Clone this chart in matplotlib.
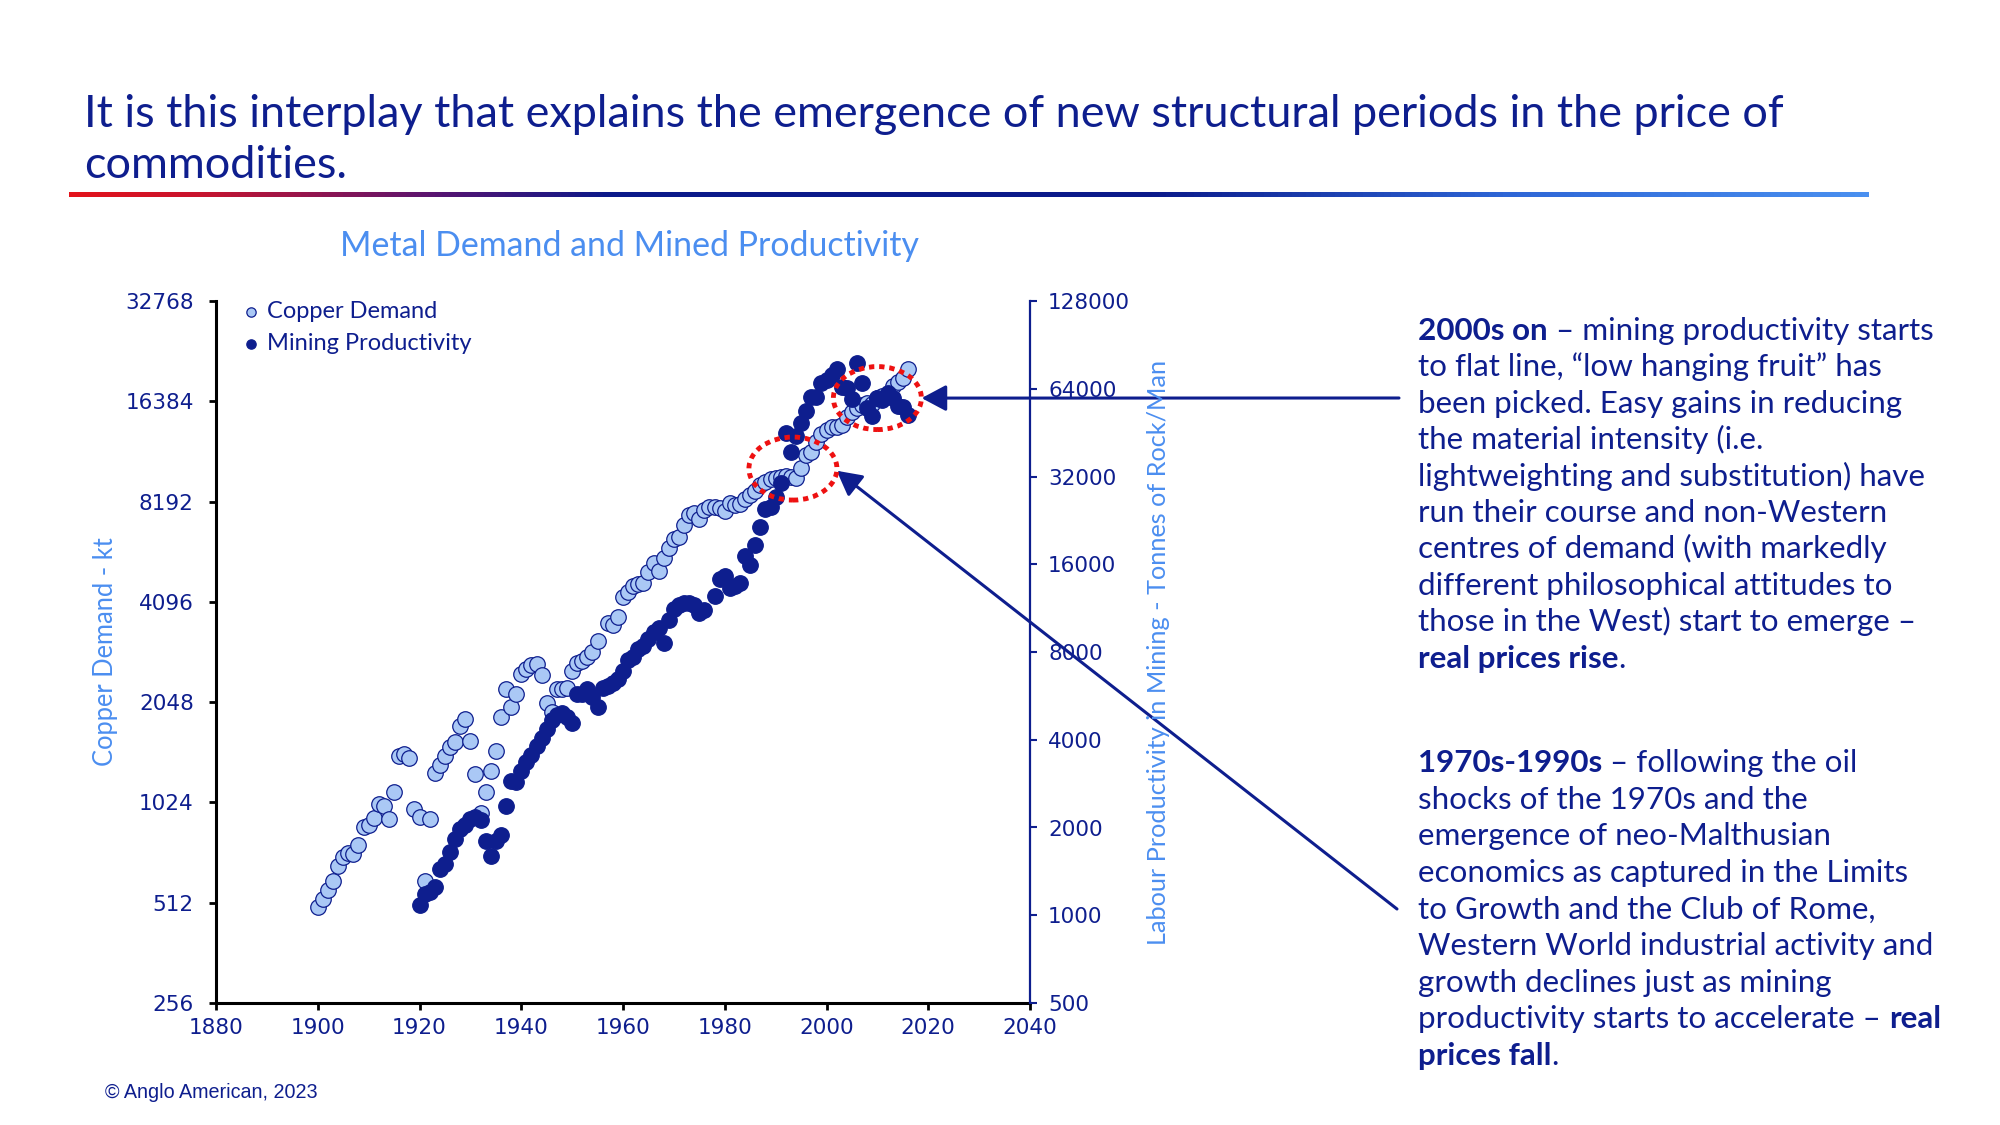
import numpy as np
import matplotlib
matplotlib.use("Agg")
import matplotlib.pyplot as plt
from matplotlib.patches import Ellipse
from matplotlib.colors import LinearSegmentedColormap

plt.rcParams['font.family'] = ['Lato', 'DejaVu Sans']

NAVY = "#0E1E8E"
LIGHT = "#4B8EF0"
POINT_LIGHT = "#AAC8F5"
RED = "#EE1111"

# copper demand (kt), left axis
copper_years = list(range(1900, 1956)) + list(range(1957, 2017))
copper_demand = [
    498, 525, 559, 596, 660, 704, 723, 716, 764, 862,
    876, 917, 1013, 1001, 913, 1103, 1414, 1428, 1395, 978,
    928, 596, 913, 1252, 1326, 1414, 1498, 1551, 1740, 1823,
    1569, 1246, 950, 1098, 1272, 1460, 1851, 2238, 1984, 2166,
    2482, 2570, 2647, 2660, 2470, 2039, 1916, 2238, 2238, 2253,
    2539, 2678, 2727, 2803, 2902, 3131,
    3531, 3489, 3697, 4244, 4393, 4570, 4632, 4674, 5043, 5345,
    5079, 5532, 5929, 6308, 6423, 6966, 7462, 7583, 7258, 7724,
    7869, 7902, 7815, 7670, 8125, 7997, 8051, 8317, 8568, 8829,
    9180, 9393, 9549, 9615, 9723, 9769, 9723, 9615, 10304, 11297,
    11556, 12383, 13064, 13430, 13740, 13740, 13901, 14720, 15237, 15598,
    15959, 16148, 16069, 16717, 16986, 17103, 18204, 18744, 19190, 20424,
]

# labour productivity in mining (tonnes of rock / man), right axis
mining_years = list(range(1920, 1977)) + list(range(1978, 2017))
mining_productivity = [
    1087, 1185, 1197, 1249, 1440, 1498, 1647, 1825, 1975, 2043,
    2137, 2181, 2126, 1801, 1600, 1801, 1888, 2379, 2898, 2876,
    3129, 3368, 3550, 3812, 4051, 4349, 4681, 4870, 4958, 4803,
    4581, 5746, 5746, 5963, 5599, 5198, 6012, 6122, 6284, 6453,
    6908, 7516, 7716, 8180, 8396, 8870, 9377, 9654, 8575, 10310,
    11214, 11605, 11816, 11760, 11605, 10869, 11156,
    12459, 14212, 14590, 13239, 13480, 13773, 17087, 15911, 18636,
    21424, 24700, 25213, 27151, 30472, 45219, 38744, 44050, 48816,
    53660, 59800, 60080, 66800, 68550, 71320, 74590, 65030, 64360,
    58860, 78580, 66800, 54830, 51590, 59330, 58530, 61730, 59470,
    55830, 55530, 51990,
]

x_ticks = [1880, 1900, 1920, 1940, 1960, 1980, 2000, 2020, 2040]
left_ticks = [256, 512, 1024, 2048, 4096, 8192, 16384, 32768]
right_ticks = [500, 1000, 2000, 4000, 8000, 16000, 32000, 64000, 128000]

text_2000s = [
    [("2000s on", "bold"), (" \u2013 mining productivity starts", "normal")],
    [("to flat line, \u201clow hanging fruit\u201d has", "normal")],
    [("been picked. Easy gains in reducing", "normal")],
    [("the material intensity (i.e.", "normal")],
    [("lightweighting and substitution) have", "normal")],
    [("run their course and non-Western", "normal")],
    [("centres of demand (with markedly", "normal")],
    [("different philosophical attitudes to", "normal")],
    [("those in the West) start to emerge \u2013", "normal")],
    [("real prices rise", "bold"), (".", "normal")],
]
text_1970s = [
    [("1970s-1990s", "bold"), (" \u2013 following the oil", "normal")],
    [("shocks of the 1970s and the", "normal")],
    [("emergence of neo-Malthusian", "normal")],
    [("economics as captured in the Limits", "normal")],
    [("to Growth and the Club of Rome,", "normal")],
    [("Western World industrial activity and", "normal")],
    [("growth declines just as mining", "normal")],
    [("productivity starts to accelerate \u2013 ", "normal"), ("real", "bold")],
    [("prices fall", "bold"), (".", "normal")],
]

W, H = 2000, 1125
fig = plt.figure(figsize=(20, 11.25), dpi=100)

# headline and coloured rule
fig.text(84 / W, 1 - 140 / H,
         "It is this interplay that explains the emergence of new structural periods in the price of\ncommodities.",
         fontsize=32.4, color=NAVY, va='center', ha='left', linespacing=1.3)
rule = LinearSegmentedColormap.from_list("rule", [
    (0.0, "#E3131B"), (0.07, "#C8142E"), (0.2, "#5A1470"), (0.3, "#0B1A8A"),
    (0.6, "#0B1A8A"), (0.8, "#2E66D6"), (1.0, "#4A90F0")])
gax = fig.add_axes([69 / W, 1 - 197 / H, 1800 / W, 5 / H])
gax.imshow(np.linspace(0, 1, 512)[None, :], aspect='auto', cmap=rule)
gax.axis('off')

fig.text(629 / W, 1 - 246 / H, "Metal Demand and Mined Productivity",
         fontsize=24.4, color=LIGHT, ha='center', va='center')

ax = fig.add_axes([216 / W, 1 - 1003 / H, 814 / W, 702 / H])
ax2 = ax.twinx()

ax.set_xlim(1880, 2040)
ax.set_yscale('log', base=2)
ax.set_ylim(256, 32768)
ax2.set_yscale('log', base=2)
ax2.set_ylim(500, 128000)

h1 = ax.scatter(copper_years, copper_demand, s=125, color=POINT_LIGHT,
                edgecolor=NAVY, linewidth=0.9, zorder=3, label="Copper Demand")
h2 = ax2.scatter(mining_years, mining_productivity, s=125, color=NAVY,
                 edgecolor=NAVY, linewidth=0.9, zorder=3, label="Mining Productivity")

tick_font = dict(family='DejaVu Sans', size=15.5)
ax.set_xticks(x_ticks)
ax.set_xticklabels([str(t) for t in x_ticks], color=NAVY, fontdict=tick_font)
ax.set_yticks(left_ticks)
ax.set_yticklabels([str(t) for t in left_ticks], color=NAVY, fontdict=tick_font)
ax.minorticks_off()
ax2.set_yticks(right_ticks)
ax2.set_yticklabels([str(t) for t in right_ticks], color=NAVY, fontdict=tick_font)
ax2.minorticks_off()

for s in ['top', 'right']:
    ax.spines[s].set_visible(False)
for s in ['top', 'left', 'bottom']:
    ax2.spines[s].set_visible(False)
ax.spines['left'].set_linewidth(2.2)
ax.spines['bottom'].set_linewidth(2.2)
ax2.spines['right'].set_linewidth(1.6)
ax2.spines['right'].set_color(NAVY)
ax.tick_params(axis='x', direction='out', length=5, width=2, color='black', pad=6)
ax.tick_params(axis='y', direction='out', length=5, width=2, color='black', pad=11)
ax2.tick_params(axis='y', direction='out', length=5, width=1.5, color=NAVY, pad=8)

ax.set_ylabel("Copper Demand - kt", color=LIGHT, fontsize=18.4, labelpad=5)
ax2.set_ylabel("Labour Productivity in Mining - Tonnes of Rock/Man", color=LIGHT,
               fontsize=18.2, labelpad=12)

ax2.legend(handles=[h1, h2], loc='upper left', bbox_to_anchor=(0.0, 1.03),
           frameon=False, fontsize=17, labelcolor=NAVY, markerscale=0.6,
           handletextpad=0.05, labelspacing=0.45, handlelength=1.2)

# red dotted rings
to_axes = ax.transData + ax.transAxes.inverted()
for yr, val in [(1993.4, 10290), (2010.0, 16750)]:
    cx, cy = to_axes.transform((yr, val))
    ax2.add_patch(Ellipse((cx, cy), 88 / 814, 63 / 702, transform=ax.transAxes,
                          fill=False, edgecolor=RED, linewidth=3.5,
                          linestyle=(0, (1.1, 1.0)), zorder=5, clip_on=False))

# arrows from the notes to the rings
arrow = dict(arrowstyle='-|>,head_length=0.75,head_width=0.4', color=NAVY,
             linewidth=2.2, shrinkA=0, shrinkB=0, mutation_scale=20)
ax.annotate("", xy=(2018.7, 16750), xycoords='data',
            xytext=(1399 / W, 1 - 398 / H), textcoords='figure fraction',
            arrowprops=arrow, annotation_clip=False, zorder=6)
ax.annotate("", xy=(2002.0, 10137), xycoords='data',
            xytext=(1397 / W, 1 - 909 / H), textcoords='figure fraction',
            arrowprops=arrow, annotation_clip=False, zorder=6)


def draw_runs(x0, baseline, lines, step):
    renderer = fig.canvas.get_renderer()
    for i, runs in enumerate(lines):
        x = x0
        y = 1 - (baseline + i * step) / H
        for txt, weight in runs:
            t = fig.text(x, y, txt, fontsize=22.6, color=NAVY, fontweight=weight,
                         va='baseline', ha='left')
            x += t.get_window_extent(renderer).width / W


draw_runs(1418 / W, 340, text_2000s, 36.4)
draw_runs(1418 / W, 772, text_1970s, 36.6)

fig.text(105 / W, 1 - 1092 / H, "\u00a9 Anglo American, 2023", fontsize=14.2,
         color=NAVY, family='Liberation Sans', va='center', ha='left')

fig.savefig("out.png", dpi=100)
